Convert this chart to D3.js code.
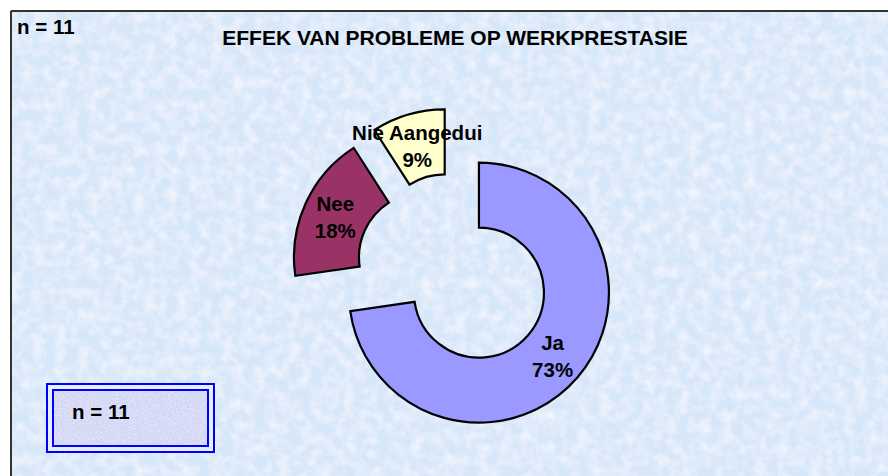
<!DOCTYPE html>
<html><head><meta charset="utf-8">
<script src="https://cdn.jsdelivr.net/npm/d3@7"></script>
<style>html,body{margin:0;padding:0;background:#fff;}svg{display:block;}</style>
</head><body>
<script>
const categories = ["Ja", "Nee", "Nie Aangedui"];
const counts = [8, 2, 1];
const percentLabels = ["73%", "18%", "9%"];
const colors = ["#9999ff", "#993366", "#ffffcc"];
const titleText = "EFFEK VAN PROBLEME OP WERKPRESTASIE";
const nText = "n = 11";

const W = 888, H = 476;
const svg = d3.select("body").append("svg").attr("width", W).attr("height", H);
const defs = svg.append("defs");

const f1 = defs.append("filter").attr("id", "tex").attr("x", 0).attr("y", 0).attr("width", 1).attr("height", 1);
f1.append("feTurbulence").attr("type", "fractalNoise").attr("baseFrequency", "0.09").attr("numOctaves", 4).attr("seed", 3).attr("result", "n");
f1.append("feColorMatrix").attr("in", "n").attr("type", "matrix")
  .attr("values", "0 0 0 0 0.98  0 0 0 0 0.95  0 0 0 0 1  1.4 0 0 0 -0.5");

const f2 = defs.append("filter").attr("id", "tex2").attr("x", 0).attr("y", 0).attr("width", 1).attr("height", 1);
f2.append("feTurbulence").attr("type", "fractalNoise").attr("baseFrequency", "0.6").attr("numOctaves", 2).attr("seed", 7).attr("result", "n");
f2.append("feColorMatrix").attr("in", "n").attr("type", "matrix")
  .attr("values", "0 0 0 0 0.97  0 0 0 0 0.78  0 0 0 0 0.93  2.2 0 0 0 -0.9");

// chart area background
svg.append("rect").attr("x", 11).attr("y", 11).attr("width", W - 11).attr("height", H - 11).attr("fill", "#d6e7f9");
svg.append("rect").attr("x", 11).attr("y", 11).attr("width", W - 11).attr("height", H - 11).attr("fill", "#fff").attr("filter", "url(#tex)");
svg.append("line").attr("x1", 11).attr("y1", 11).attr("x2", W).attr("y2", 11).attr("stroke", "#333").attr("stroke-width", 2);
svg.append("line").attr("x1", 11).attr("y1", 11).attr("x2", 11).attr("y2", H).attr("stroke", "#333").attr("stroke-width", 2);

const font = "'Liberation Sans', Arial, sans-serif";

svg.append("text").attr("x", 17).attr("y", 34).text(nText)
  .attr("font-family", font).attr("font-weight", "bold").attr("font-size", 20.5).attr("fill", "#000");

svg.append("text").attr("x", 455).attr("y", 45).attr("text-anchor", "middle").text(titleText)
  .attr("font-family", font).attr("font-weight", "bold").attr("font-size", 21).attr("fill", "#000");

// donut
const cx = 454, cy = 271, R = 130, r = 65, explode = 33;
const pie = d3.pie().sort(null).value(d => d);
const arcs = pie(counts);
const arc = d3.arc().innerRadius(r).outerRadius(R);
const g = svg.append("g").attr("transform", `translate(${cx},${cy})`);

const slices = g.selectAll("g.slice").data(arcs).join("g").attr("class", "slice")
  .attr("transform", d => {
    const a = (d.startAngle + d.endAngle) / 2;
    return `translate(${explode * Math.sin(a)},${-explode * Math.cos(a)})`;
  });
slices.append("path").attr("d", arc).attr("fill", (d, i) => colors[i])
  .attr("stroke", "#000").attr("stroke-width", 2.2).attr("stroke-linejoin", "miter");

const labels = g.selectAll("g.lab").data(arcs).join("g").attr("class", "lab")
  .attr("transform", d => {
    const a = (d.startAngle + d.endAngle) / 2;
    const c = arc.centroid(d);
    return `translate(${c[0] + explode * Math.sin(a)},${c[1] - explode * Math.cos(a)})`;
  });
labels.each(function(d, i) {
  const t = d3.select(this).append("text").attr("text-anchor", "middle")
    .attr("font-family", font).attr("font-weight", "bold").attr("font-size", 20.5).attr("fill", "#000");
  t.append("tspan").attr("x", 0).attr("y", -6).text(categories[i]);
  t.append("tspan").attr("x", 0).attr("y", 21).text(percentLabels[i]);
});

// legend box
svg.append("rect").attr("x", 47).attr("y", 384).attr("width", 167).attr("height", 68)
  .attr("fill", "#e6eefb").attr("stroke", "#0000ff").attr("stroke-width", 2);
svg.append("rect").attr("x", 53).attr("y", 390).attr("width", 155).attr("height", 56)
  .attr("fill", "#cdd8f6").attr("stroke", "none");
svg.append("rect").attr("x", 53).attr("y", 390).attr("width", 155).attr("height", 56)
  .attr("fill", "#fff").attr("filter", "url(#tex2)");
svg.append("rect").attr("x", 53).attr("y", 390).attr("width", 155).attr("height", 56)
  .attr("fill", "none").attr("stroke", "#0000ff").attr("stroke-width", 2);
svg.append("text").attr("x", 72).attr("y", 419).text(nText)
  .attr("font-family", font).attr("font-weight", "bold").attr("font-size", 20.5).attr("fill", "#000");
</script>
</body></html>
